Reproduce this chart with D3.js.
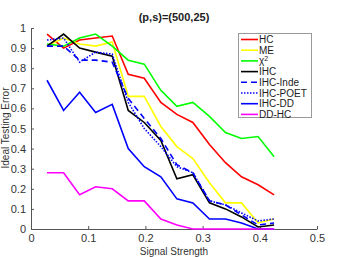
<!DOCTYPE html>
<html>
<head>
<meta charset="utf-8">
<script src="https://cdn.jsdelivr.net/npm/d3@7"></script>
<style>
  body { margin: 0; background: #fff; }
  text { font-family: "Liberation Sans", Arial, sans-serif; }
</style>
</head>
<body>
<script>
const xs = [0.028, 0.057, 0.085, 0.113, 0.142, 0.170, 0.198, 0.227, 0.255, 0.283, 0.312, 0.340, 0.368, 0.397, 0.425];
const hc = [0.97, 0.90, 0.94, 0.95, 0.96, 0.77, 0.75, 0.63, 0.57, 0.53, 0.42, 0.33, 0.26, 0.22, 0.17];
const me = [0.91, 0.95, 0.92, 0.91, 0.93, 0.66, 0.66, 0.51, 0.41, 0.35, 0.23, 0.13, 0.13, 0.03, 0.05];
const chi2 = [0.92, 0.91, 0.95, 0.97, 0.91, 0.84, 0.82, 0.69, 0.61, 0.63, 0.56, 0.48, 0.45, 0.46, 0.36];
const ihc = [0.91, 0.97, 0.90, 0.88, 0.86, 0.59, 0.53, 0.44, 0.25, 0.27, 0.13, 0.10, 0.06, 0.01, 0.02];
const ihcInde = [0.91, 0.91, 0.84, 0.84, 0.83, 0.65, 0.55, 0.45, 0.32, 0.28, 0.14, 0.12, 0.07, 0.02, 0.03];
const ihcPoet = [0.94, 0.95, 0.83, 0.88, 0.87, 0.63, 0.50, 0.41, 0.31, 0.28, 0.14, 0.12, 0.08, 0.04, 0.05];
const ihcDD = [0.74, 0.59, 0.68, 0.58, 0.62, 0.40, 0.31, 0.26, 0.15, 0.13, 0.05, 0.05, 0.03, 0.00, 0.00];
const ddHc = [0.28, 0.28, 0.17, 0.21, 0.20, 0.14, 0.14, 0.05, 0.02, 0.00, 0.00, 0.00, 0.00, 0.00, 0.00];

const xTicks = [0, 0.1, 0.2, 0.3, 0.4, 0.5];
const yTicks = [0, 0.1, 0.2, 0.3, 0.4, 0.5, 0.6, 0.7, 0.8, 0.9, 1];

const series = [
  { name: 'HC', values: hc, color: '#ff0000', dash: null },
  { name: 'ME', values: me, color: '#ffff00', dash: null },
  { name: 'χ2', values: chi2, color: '#00ff00', dash: null },
  { name: 'IHC', values: ihc, color: '#000000', dash: null },
  { name: 'IHC-Inde', values: ihcInde, color: '#0000ff', dash: '6,4' },
  { name: 'IHC-POET', values: ihcPoet, color: '#0000ff', dash: '1.5,1.5' },
  { name: 'IHC-DD', values: ihcDD, color: '#0000ff', dash: null },
  { name: 'DD-HC', values: ddHc, color: '#ff00ff', dash: null }
];

const W = 346, H = 257;
const svg = d3.select('body').append('svg').attr('width', W).attr('height', H);

const x = d3.scaleLinear().domain([0, 0.5]).range([31, 317]);
const y = d3.scaleLinear().domain([0, 1]).range([229, 28]);

// axes
const xAxis = svg.append('g').attr('transform', 'translate(0,229)')
  .call(d3.axisBottom(x).tickValues(xTicks).tickSizeInner(-3).tickSizeOuter(0).tickPadding(5)
    .tickFormat(d => d === 0 ? '0' : d3.format('.1f')(d)));
const yAxis = svg.append('g').attr('transform', 'translate(31,0)')
  .call(d3.axisLeft(y).tickValues(yTicks).tickSizeInner(-3).tickSizeOuter(0).tickPadding(5)
    .tickFormat(d => (d === 0 || d === 1) ? String(d) : d3.format('.1f')(d)));
[xAxis, yAxis].forEach(a => {
  a.select('.domain').attr('stroke', '#555').attr('stroke-width', 1);
  a.selectAll('.tick line').attr('stroke', '#555');
  a.selectAll('.tick text').attr('fill', '#333').style('font-size', '11px');
});

const line = d3.line().x((d, i) => x(xs[i])).y(d => y(d));
svg.append('g').selectAll('path').data(series).join('path')
  .attr('d', d => line(d.values))
  .attr('fill', 'none')
  .attr('stroke', d => d.color)
  .attr('stroke-width', 1.6)
  .attr('stroke-dasharray', d => d.dash)
  .attr('stroke-linejoin', 'miter');

// title and labels
svg.append('text').attr('x', 174).attr('y', 21).attr('text-anchor', 'middle')
  .style('font-size', '11px').style('font-weight', 'bold').attr('fill', '#222').text('(p,s)=(500,25)');
svg.append('text').attr('x', 174).attr('y', 255).attr('text-anchor', 'middle')
  .style('font-size', '10px').attr('fill', '#333').text('Signal Strength');
svg.append('text').attr('transform', 'translate(9,128) rotate(-90)').attr('text-anchor', 'middle')
  .style('font-size', '10px').attr('fill', '#333').text('Ideal Testing Error');

// legend
const lg = svg.append('g');
lg.append('rect').attr('x', 238.5).attr('y', 33.5).attr('width', 73).attr('height', 84)
  .attr('fill', '#fff').attr('stroke', '#999').attr('stroke-width', 1);
const rows = lg.selectAll('g').data(series).join('g')
  .attr('transform', (d, i) => `translate(0,${39.5 + i * 10.7})`);
rows.append('line').attr('x1', 241).attr('x2', 258).attr('y1', 0).attr('y2', 0)
  .attr('stroke', d => d.color).attr('stroke-width', 1.6)
  .attr('stroke-dasharray', d => d.dash);
rows.append('text').attr('x', 259).attr('y', 3.5)
  .style('font-size', '10px').attr('fill', '#222')
  .each(function(d) {
    const t = d3.select(this);
    if (d.name === 'χ2') {
      t.append('tspan').text('χ');
      t.append('tspan').text('2').attr('dy', -3.5).style('font-size', '7px');
    } else {
      t.text(d.name);
    }
  });
</script>
</body>
</html>
